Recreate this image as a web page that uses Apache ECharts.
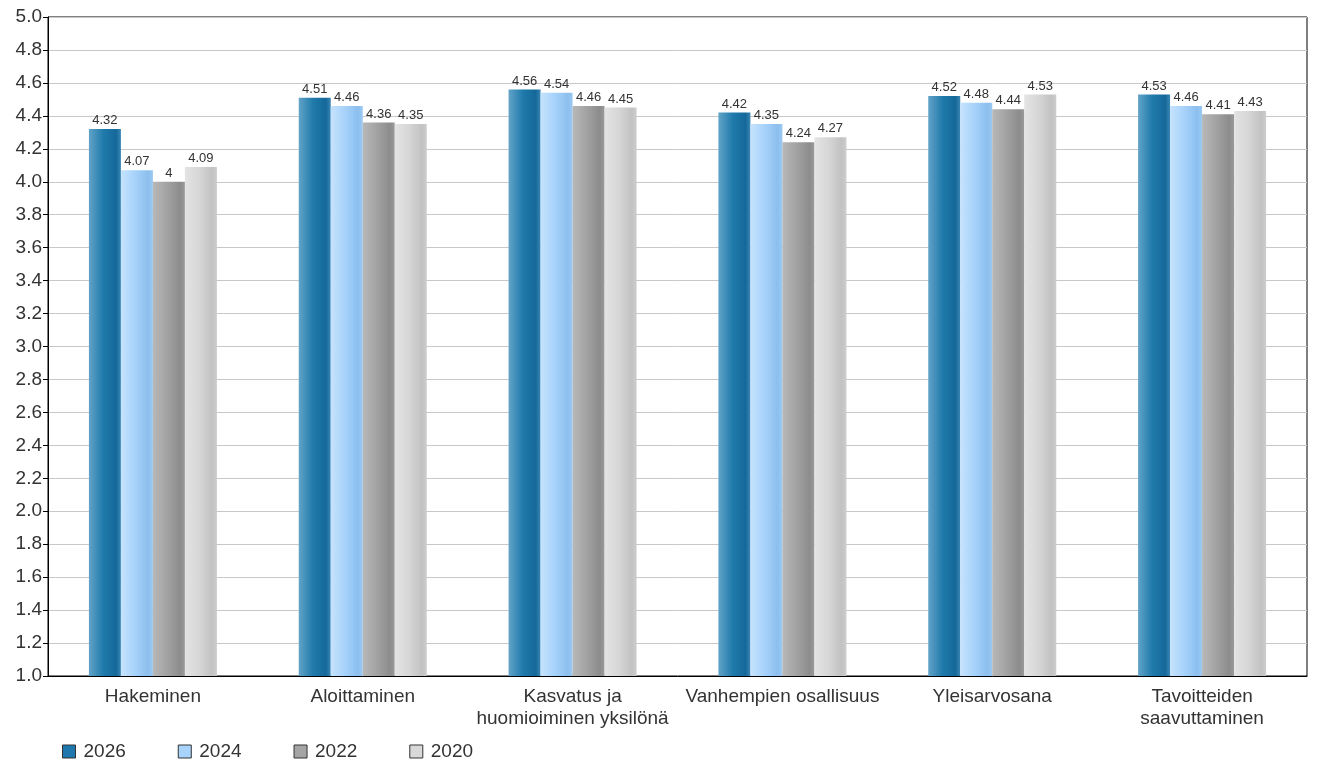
<!DOCTYPE html>
<html><head><meta charset="utf-8">
<script src="https://cdn.jsdelivr.net/npm/echarts@6/dist/echarts.min.js"></script>
<style>html,body{margin:0;padding:0;background:#fff}#c{width:1323px;height:762px}</style>
</head><body><div id="c"></div>
<script>
const categories = ['Hakeminen','Aloittaminen','Kasvatus ja\nhuomioiminen yksilönä','Vanhempien osallisuus','Yleisarvosana','Tavoitteiden\nsaavuttaminen'];
const seriesNames = ['2026','2024','2022','2020'];
const v2026 = [4.32,4.51,4.56,4.42,4.52,4.53];
const v2024 = [4.07,4.46,4.54,4.35,4.48,4.46];
const v2022 = [4,4.36,4.46,4.24,4.44,4.41];
const v2020 = [4.09,4.35,4.45,4.27,4.53,4.43];
const values = [v2026,v2024,v2022,v2020];
const grads = [
  ['#62a3c8','#1f7aab','#15689a','#3a86b4'],
  ['#c6e3fd','#a6d2fa','#8cbfee','#9cc9f3'],
  ['#b8b8b8','#a2a2a2','#8c8c8c','#9a9a9a'],
  ['#e4e4e4','#d6d6d6','#c2c2c2','#cdcdcd']
];
const legendColors = ['#1f78ad','#a8d3fb','#a5a5a5','#d9d9d9'];
function grad(c){return new echarts.graphic.LinearGradient(0,0,1,0,[{offset:0,color:c[0]},{offset:0.45,color:c[1]},{offset:0.85,color:c[2]},{offset:1,color:c[3]}]);}
const FONT = 'Liberation Sans, Arial, sans-serif';
const chart = echarts.init(document.getElementById('c'));
chart.setOption({
  animation:false,
  grid:{left:48,right:16,top:17,bottom:86,show:true,borderColor:'#000',borderWidth:1},
  legend:{top:737,left:57,itemWidth:13,itemHeight:13,itemGap:52,icon:'rect',
    textStyle:{fontSize:19,color:'#333',fontFamily:FONT,padding:[0,0,0,3]},
    data:seriesNames.map((n,i)=>({name:n,itemStyle:{color:legendColors[i],borderColor:'#333',borderWidth:1}}))},
  xAxis:{type:'category',data:categories,
    axisLine:{lineStyle:{color:'#000'}},axisTick:{alignWithLabel:true,length:5,lineStyle:{color:'#000'},interval:0},
    axisLabel:{fontSize:19,color:'#333',fontFamily:FONT,margin:10,lineHeight:22,interval:0}},
  yAxis:{type:'value',min:1,max:5,interval:0.2,
    axisLine:{show:true,lineStyle:{color:'#000'}},axisTick:{show:true,length:5,lineStyle:{color:'#000'}},
    axisLabel:{fontSize:19,color:'#333',fontFamily:FONT,formatter:v=>v.toFixed(1),margin:6},
    splitLine:{lineStyle:{color:'#c8c8c8'}}},
  series:seriesNames.map((n,i)=>({name:n,type:'bar',data:values[i],barWidth:32,barGap:'0%',
    itemStyle:{color:grad(grads[i])},
    label:{show:true,position:'top',distance:2,fontSize:13,color:'#333',fontFamily:FONT}}))
});
</script></body></html>
